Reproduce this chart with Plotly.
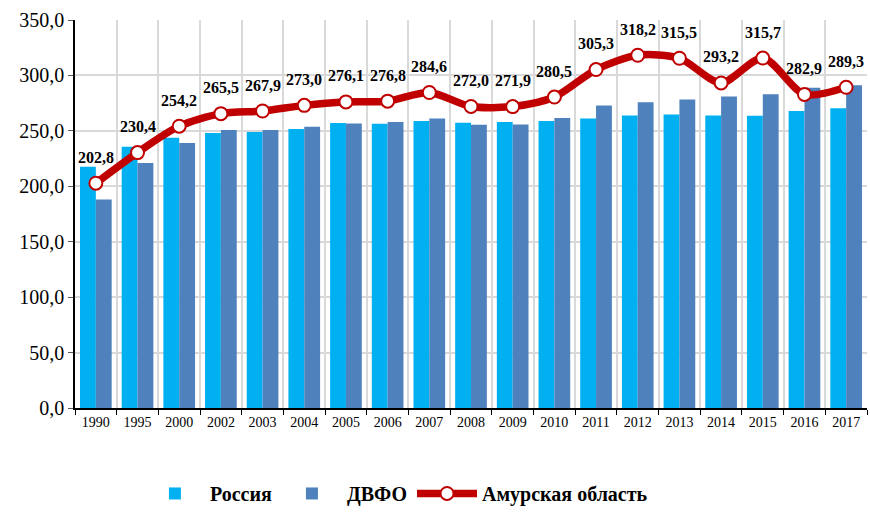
import plotly.graph_objects as go

years = ["1990", "1995", "2000", "2002", "2003", "2004", "2005", "2006", "2007",
         "2008", "2009", "2010", "2011", "2012", "2013", "2014", "2015", "2016", "2017"]
russia = [217.6, 235.6, 243.7, 248.0, 248.9, 251.6, 257.0, 256.4, 258.8,
          257.3, 257.9, 258.8, 261.2, 263.9, 264.8, 263.9, 263.6, 267.8, 270.5]
dvfo = [188.0, 221.0, 239.0, 250.7, 250.7, 253.7, 256.7, 257.9, 261.2,
        255.5, 255.8, 261.5, 272.9, 275.9, 278.3, 281.0, 283.1, 288.8, 291.2]
amur = [202.8, 230.4, 254.2, 265.5, 267.9, 273.0, 276.1, 276.8, 284.6,
        272.0, 271.9, 280.5, 305.3, 318.2, 315.5, 293.2, 315.7, 282.9, 289.3]

serif = "Liberation Serif, serif"

fig = go.Figure()
fig.add_trace(go.Bar(x=years, y=russia, name="Россия", marker=dict(color="#00B0F0", line=dict(width=0))))
fig.add_trace(go.Bar(x=years, y=dvfo, name="ДВФО", marker=dict(color="#4F81BD", line=dict(width=0))))
fig.add_trace(go.Scatter(
    x=years, y=amur, name="Амурская область",
    mode="lines+markers",
    line=dict(color="#C00000", width=7.5, shape="spline", smoothing=0.8),
    marker=dict(size=13, color="white", line=dict(color="#C00000", width=2)),
    cliponaxis=False,
))

# category axis: annotation x given as category index
for i, v in enumerate(amur):
    fig.add_annotation(
        x=i, y=v, text=f"{v:.1f}".replace(".", ","), showarrow=False,
        yanchor="middle", yshift=26,
        font=dict(family=serif, size=16, color="black", weight="bold"),
    )

fig.update_layout(
    width=870, height=512,
    margin=dict(l=75, r=3, t=20, b=104, autoexpand=False),
    plot_bgcolor="white", paper_bgcolor="white",
    separators=", ",
    barmode="group", bargap=0.24, bargroupgap=0.0,
    font=dict(family=serif, color="black"),
    legend=dict(orientation="h", x=0.082, xanchor="left", y=-0.17, yanchor="top",
                font=dict(family=serif, size=20, color="black", weight="bold"),
                itemwidth=60, traceorder="normal"),
    showlegend=True,
)
fig.update_xaxes(
    type="category", range=[-0.5, len(years) - 0.5], tickson="boundaries",
    showgrid=True, gridcolor="#D9D9D9", gridwidth=2,
    showline=True, linecolor="black", linewidth=1.5, ticks="outside", ticklen=5, tickcolor="black",
    tickfont=dict(family=serif, size=14, color="black"), automargin=False,
)
fig.update_yaxes(
    range=[0, 350], dtick=50, tickformat=".1f", showgrid=True, gridcolor="#D9D9D9", gridwidth=2,
    showline=True, linecolor="black", linewidth=1.5, ticks="outside", ticklen=5, tickcolor="#595959",
    tickfont=dict(family=serif, size=20, color="black"), zeroline=False, automargin=False,
)

fig.write_html("out.html", config={"displayModeBar": False},
               post_script="document.body.style.margin='0px';")
